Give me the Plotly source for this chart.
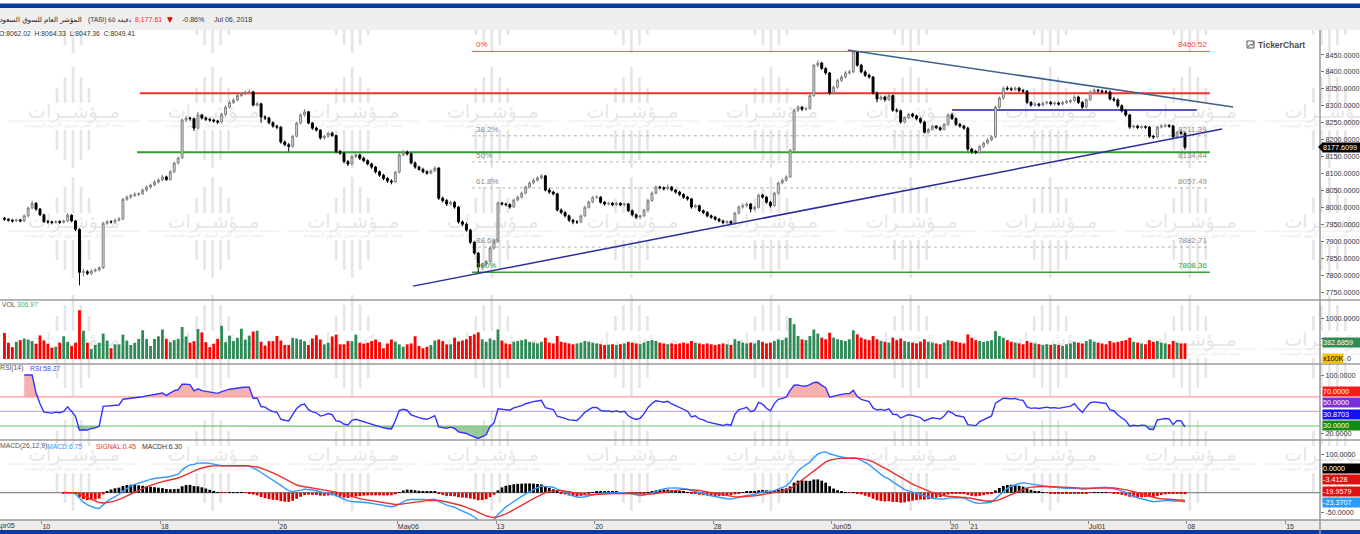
import base64
import numpy as np
import plotly.graph_objects as go

# ---------------- data (hourly TASI candles) ----------------
opens = [
    7968, 7965, 7962, 7960, 7963, 7960, 7975, 7998, 8012, 7995, 7978, 7958, 7957, 7955, 7958,
    7956, 7960, 7977, 7960, 7935, 7808, 7810, 7805, 7812, 7815, 7822, 7953, 7958, 7957, 7962,
    7966, 8024, 8030, 8035, 8038, 8040, 8051, 8060, 8066, 8075, 8081, 8090, 8082, 8105, 8131,
    8146, 8258, 8264, 8262, 8234, 8273, 8264, 8260, 8258, 8255, 8252, 8275, 8296, 8310, 8317,
    8330, 8336, 8340, 8341, 8302, 8306, 8267, 8264, 8250, 8240, 8237, 8193, 8185, 8180, 8210,
    8249, 8273, 8282, 8249, 8234, 8228, 8205, 8210, 8219, 8212, 8165, 8160, 8135, 8128, 8150,
    8155, 8145, 8138, 8128, 8119, 8105, 8095, 8085, 8078, 8075, 8104, 8155, 8163, 8158, 8131,
    8119, 8112, 8105, 8101, 8108, 8116, 8027, 8020, 8010, 8015, 8001, 7957, 7950, 7933, 7897,
    7865, 7824, 7832, 7840, 7880, 7900, 8013, 8010, 8008, 8001, 8022, 8030, 8042, 8060, 8072,
    8080, 8087, 8093, 8051, 8045, 8040, 7992, 7985, 7975, 7962, 7957, 7957, 7975, 8000, 8016,
    8030, 8030, 8015, 8010, 8012, 8008, 8012, 8007, 8010, 7990, 7978, 7971, 7975, 7992, 8020,
    8042, 8060, 8058, 8055, 8060, 8051, 8045, 8038, 8030, 8025, 8001, 8005, 7990, 7985, 7975,
    7971, 7965, 7960, 7955, 7958, 7953, 7983, 8001, 8005, 8010, 7995, 8000, 8036, 8030, 8015,
    8005, 8042, 8072, 8080, 8090, 8169, 8287, 8296, 8290, 8292, 8330, 8420, 8426, 8410, 8397,
    8338, 8355, 8375, 8385, 8397, 8400, 8459, 8420, 8400, 8390, 8385, 8338, 8320, 8326, 8318,
    8330, 8287, 8285, 8252, 8265, 8275, 8270, 8262, 8252, 8222, 8230, 8240, 8235, 8230, 8245,
    8273, 8262, 8245, 8240, 8234, 8172, 8165, 8162, 8180, 8190, 8199, 8208, 8296, 8323, 8352,
    8350, 8348, 8352, 8345, 8343, 8310, 8302, 8305, 8302, 8308, 8310, 8306, 8308, 8305, 8310,
    8312, 8315, 8326, 8310, 8296, 8318, 8341, 8346, 8344, 8342, 8341, 8320, 8317, 8300, 8285,
    8273, 8237, 8240, 8236, 8238, 8237, 8210, 8208, 8237, 8240, 8242, 8240, 8208, 8222, 8219,
]
highs = [
    7972, 7968, 7966, 7967, 7966, 7979, 8003, 8020, 8016, 7998, 7981, 7963, 7961, 7962, 7962,
    7964, 7983, 7980, 7963, 7938, 7818, 7815, 7817, 7820, 7826, 7958, 7963, 7962, 7967, 7972,
    8028, 8036, 8040, 8046, 8044, 8056, 8065, 8070, 8080, 8086, 8096, 8094, 8110, 8135, 8150,
    8263, 8270, 8268, 8265, 8282, 8276, 8268, 8264, 8262, 8259, 8279, 8301, 8315, 8322, 8335,
    8341, 8345, 8348, 8344, 8312, 8309, 8272, 8268, 8254, 8244, 8240, 8198, 8190, 8214, 8253,
    8278, 8290, 8285, 8252, 8238, 8231, 8214, 8224, 8224, 8215, 8170, 8163, 8140, 8154, 8163,
    8158, 8150, 8142, 8132, 8122, 8109, 8099, 8090, 8083, 8108, 8160, 8170, 8168, 8162, 8136,
    8123, 8117, 8110, 8112, 8121, 8119, 8032, 8025, 8020, 8019, 8004, 7962, 7955, 7937, 7901,
    7868, 7836, 7845, 7885, 7906, 8018, 8016, 8014, 8012, 8026, 8035, 8047, 8064, 8077, 8086,
    8092, 8098, 8096, 8058, 8049, 8043, 7997, 7989, 7979, 7966, 7962, 7979, 8005, 8020, 8034,
    8036, 8033, 8019, 8016, 8016, 8016, 8015, 8014, 8013, 7994, 7982, 7979, 7996, 8024, 8047,
    8065, 8064, 8062, 8068, 8063, 8055, 8049, 8042, 8034, 8028, 8010, 8008, 7994, 7989, 7979,
    7975, 7969, 7964, 7962, 7962, 7987, 8006, 8012, 8015, 8013, 8004, 8041, 8040, 8034, 8019,
    8046, 8077, 8086, 8095, 8172, 8292, 8302, 8299, 8297, 8334, 8424, 8434, 8430, 8414, 8400,
    8360, 8380, 8390, 8403, 8406, 8460.52, 8460, 8424, 8405, 8395, 8388, 8342, 8331, 8330, 8335,
    8333, 8293, 8289, 8268, 8279, 8279, 8274, 8266, 8256, 8235, 8244, 8243, 8239, 8249, 8278,
    8279, 8266, 8250, 8244, 8238, 8176, 8170, 8184, 8194, 8204, 8213, 8300, 8328, 8357, 8358,
    8355, 8357, 8356, 8350, 8347, 8314, 8310, 8309, 8312, 8315, 8314, 8312, 8312, 8315, 8317,
    8320, 8331, 8330, 8314, 8322, 8346, 8352, 8350, 8348, 8347, 8345, 8326, 8322, 8304, 8289,
    8276, 8244, 8244, 8242, 8242, 8240, 8214, 8241, 8246, 8248, 8246, 8244, 8226, 8228, 8222,
]
lows = [
    7960, 7958, 7955, 7957, 7956, 7956, 7970, 7994, 7990, 7974, 7954, 7952, 7950, 7952, 7951,
    7952, 7956, 7956, 7930, 7770, 7796, 7800, 7800, 7808, 7811, 7818, 7948, 7952, 7952, 7958,
    7962, 8019, 8025, 8030, 8033, 8036, 8046, 8055, 8062, 8070, 8076, 8078, 8079, 8101, 8127,
    8142, 8252, 8256, 8226, 8230, 8259, 8255, 8253, 8250, 8246, 8248, 8270, 8291, 8305, 8313,
    8326, 8331, 8335, 8298, 8298, 8250, 8258, 8245, 8235, 8231, 8188, 8180, 8165, 8176, 8206,
    8245, 8268, 8245, 8229, 8224, 8200, 8200, 8206, 8208, 8160, 8155, 8130, 8122, 8124, 8145,
    8140, 8133, 8124, 8114, 8100, 8090, 8080, 8072, 8068, 8072, 8100, 8150, 8153, 8127, 8114,
    8108, 8101, 8096, 8097, 8104, 8022, 8014, 8004, 8006, 7996, 7952, 7944, 7928, 7892, 7860,
    7808.36, 7815, 7826, 7835, 7874, 7896, 8005, 8003, 7996, 7998, 8018, 8026, 8038, 8056, 8068,
    8076, 8083, 8047, 8040, 8035, 7988, 7980, 7970, 7957, 7950, 7951, 7953, 7971, 7996, 8012,
    8025, 8011, 8005, 8006, 8003, 8004, 8003, 8003, 7986, 7973, 7965, 7966, 7971, 7988, 8016,
    8038, 8053, 8050, 8051, 8047, 8040, 8033, 8025, 8020, 7996, 7997, 7986, 7980, 7970, 7966,
    7961, 7956, 7950, 7951, 7948, 7950, 7979, 7996, 8000, 7985, 7990, 7996, 8026, 8011, 7999,
    8001, 8038, 8068, 8076, 8086, 8165, 8281, 8284, 8285, 8288, 8326, 8414, 8406, 8392, 8332,
    8333, 8350, 8370, 8380, 8392, 8396, 8415, 8396, 8385, 8380, 8333, 8310, 8315, 8312, 8314,
    8282, 8280, 8247, 8248, 8261, 8265, 8257, 8247, 8218, 8218, 8226, 8231, 8225, 8227, 8241,
    8258, 8241, 8235, 8229, 8166, 8158, 8157, 8159, 8175, 8186, 8195, 8204, 8291, 8318, 8345,
    8343, 8343, 8340, 8338, 8305, 8297, 8297, 8297, 8298, 8303, 8301, 8301, 8300, 8301, 8305,
    8307, 8311, 8305, 8291, 8292, 8314, 8336, 8339, 8337, 8336, 8316, 8312, 8295, 8280, 8268,
    8232, 8233, 8231, 8232, 8232, 8205, 8202, 8204, 8233, 8236, 8235, 8203, 8204, 8214, 8170,
]
closes = [
    7965, 7962, 7960, 7963, 7960, 7975, 7998, 8012, 7995, 7978, 7958, 7957, 7955, 7958, 7956,
    7960, 7977, 7960, 7935, 7808, 7810, 7805, 7812, 7815, 7822, 7953, 7958, 7957, 7962, 7966,
    8024, 8030, 8035, 8038, 8040, 8051, 8060, 8066, 8075, 8081, 8090, 8082, 8105, 8131, 8146,
    8258, 8264, 8262, 8234, 8273, 8264, 8260, 8258, 8255, 8252, 8275, 8296, 8310, 8317, 8330,
    8336, 8340, 8341, 8302, 8306, 8267, 8264, 8250, 8240, 8237, 8193, 8185, 8180, 8210, 8249,
    8273, 8282, 8249, 8234, 8228, 8205, 8210, 8219, 8212, 8165, 8160, 8135, 8128, 8150, 8155,
    8145, 8138, 8128, 8119, 8105, 8095, 8085, 8078, 8075, 8104, 8155, 8163, 8158, 8131, 8119,
    8112, 8105, 8101, 8108, 8116, 8027, 8020, 8010, 8015, 8001, 7957, 7950, 7933, 7897, 7865,
    7824, 7832, 7840, 7880, 7900, 8013, 8010, 8008, 8001, 8022, 8030, 8042, 8060, 8072, 8080,
    8087, 8093, 8051, 8045, 8040, 7992, 7985, 7975, 7962, 7957, 7957, 7975, 8000, 8016, 8030,
    8030, 8015, 8010, 8012, 8008, 8012, 8007, 8010, 7990, 7978, 7971, 7975, 7992, 8020, 8042,
    8060, 8058, 8055, 8060, 8051, 8045, 8038, 8030, 8025, 8001, 8005, 7990, 7985, 7975, 7971,
    7965, 7960, 7955, 7958, 7953, 7983, 8001, 8005, 8010, 7995, 8000, 8036, 8030, 8015, 8005,
    8042, 8072, 8080, 8090, 8169, 8287, 8296, 8290, 8292, 8330, 8420, 8426, 8410, 8397, 8338,
    8355, 8375, 8385, 8397, 8400, 8459, 8420, 8400, 8390, 8385, 8338, 8320, 8326, 8318, 8330,
    8287, 8285, 8252, 8265, 8275, 8270, 8262, 8252, 8222, 8230, 8240, 8235, 8230, 8245, 8273,
    8262, 8245, 8240, 8234, 8172, 8165, 8162, 8180, 8190, 8199, 8208, 8296, 8323, 8352, 8350,
    8348, 8352, 8345, 8343, 8310, 8302, 8305, 8302, 8308, 8310, 8306, 8308, 8305, 8310, 8312,
    8315, 8326, 8310, 8296, 8318, 8341, 8346, 8344, 8342, 8341, 8320, 8317, 8300, 8285, 8273,
    8237, 8240, 8236, 8238, 8237, 8210, 8208, 8237, 8240, 8242, 8240, 8208, 8222, 8219, 8177.61,
]
volumes = [  # x100K
    635, 397, 290, 420, 460, 500, 475, 436, 373, 575,
    450, 373, 278, 300, 397, 555, 420, 317, 397, 1190,
    690, 397, 240, 340, 397, 620, 450, 262, 357, 357,
    595, 450, 340, 397, 490, 700, 490, 317, 490, 555,
    720, 490, 410, 460, 490, 780, 550, 397, 436, 730,
    650, 410, 290, 373, 490, 810, 410, 570, 436, 516,
    740, 475, 570, 670, 690, 420, 330, 436, 436, 560,
    450, 340, 340, 516, 500, 475, 436, 340, 500, 580,
    475, 357, 397, 550, 595, 357, 357, 436, 436, 595,
    397, 373, 397, 436, 475, 410, 262, 380, 475, 420,
    357, 300, 357, 380, 555, 317, 262, 300, 340, 450,
    475, 436, 357, 357, 520, 430, 450, 480, 560, 600,
    650, 480, 420, 500, 460, 720, 450, 380, 360, 420,
    440, 460, 480, 420, 400, 380, 420, 520, 400, 380,
    560, 420, 400, 380, 360, 380, 400, 440, 420, 400,
    380, 360, 340, 350, 360, 340, 360, 380, 420, 400,
    380, 360, 400, 440, 460, 440, 400, 380, 360, 380,
    360, 380, 400, 380, 440, 400, 380, 360, 380, 360,
    340, 360, 380, 360, 340, 480, 440, 400, 380, 400,
    380, 460, 420, 380, 400, 440, 480, 460, 520, 1000,
    850, 560, 480, 460, 560, 720, 620, 520, 480, 640,
    520, 480, 460, 440, 480, 700, 600, 520, 480, 460,
    560, 480, 440, 420, 400, 520, 460, 500, 440, 420,
    400, 380, 420, 480, 420, 400, 380, 360, 400, 460,
    440, 420, 400, 380, 600, 520, 460, 440, 420, 440,
    460, 680, 560, 520, 460, 420, 400, 380, 360, 440,
    400, 380, 360, 340, 360, 340, 360, 340, 320, 360,
    380, 420, 400, 380, 440, 480, 420, 400, 380, 360,
    440, 400, 420, 440, 460, 520, 420, 400, 380, 360,
    460, 420, 440, 400, 380, 360, 440, 400, 380, 383,
]

tick_pos = [9.5, 39.5, 69.5, 99.5, 124.5, 149.5, 179.5, 209.5, 239.5, 244.5, 274.5, 299.5, 324.5]
tick_text = ["10", "18", "26", "May06", "13", "20", "28", "Jun05", "20", "21", "Jul01", "08", "15"]

fib_high, fib_low = 8460.52, 7808.36
fib_ratios = [0.0, 0.382, 0.5, 0.618, 0.886, 1.0]
fib_names = ["0%", "38.2%", "50%", "61.8%", "88.6%", "100%"]
fib_span = [118.4, 305.3]
resistance, support, mid_level = 8337.0, 8163.0, 8287.5
res_span, sup_span, mid_span = [34.3, 305.3], [33.6, 305.3], [240.0, 302.0]
down_trend = [(213.6, 8464.8), (311.2, 8296.3)]
up_trend = [(103.5, 7767.4), (308.4, 8231.3)]

# ---------------- indicators ----------------
c = np.array(closes, dtype=float)
n = len(c)
idx = np.arange(n)
RSI_START = 4   # first bar the platform's RSI calculation uses in the visible window

def rsi_calc(arr, per=14, start=0):
    out = np.full(len(arr), np.nan)
    ag = al = 0.0
    cnt = 0
    for k in range(start + 1, len(arr)):
        d = arr[k] - arr[k - 1]
        g, l = max(d, 0.0), max(-d, 0.0)
        if cnt < per:
            cnt += 1
            ag += (g - ag) / cnt
            al += (l - al) / cnt
        else:
            ag = (ag * (per - 1) + g) / per
            al = (al * (per - 1) + l) / per
        out[k] = 100.0 if al == 0 else 100 - 100 / (1 + ag / al)
    return out

def ema(arr, per):
    a = 2.0 / (per + 1)
    out = np.empty(len(arr))
    out[0] = arr[0]
    for k in range(1, len(arr)):
        out[k] = a * arr[k] + (1 - a) * out[k - 1]
    return out

rsi = rsi_calc(c, 14, RSI_START)
macd = ema(c, 12) - ema(c, 26)
signal = ema(macd, 9)
hist = macd - signal

# ---------------- geometry helpers ----------------
W, H = 1360, 534
ML, MR, MT, MB = 0, 40, 30, 14
PW, PH = W - ML - MR, H - MT - MB

def py(y):
    return (H - MB - y) / PH

def px(x):
    return x / PW

FONT = "Liberation Sans"
fig = go.Figure()

# candles
fig.add_trace(go.Candlestick(
    x=idx, open=opens, high=highs, low=lows, close=closes, yaxis="y",
    increasing=dict(line=dict(color="#808080", width=1), fillcolor="#d9d9d9"),
    decreasing=dict(line=dict(color="#000000", width=1), fillcolor="#000000"),
    whiskerwidth=0, hoverinfo="skip", showlegend=False))

# volume
vcol = ["#2e8b57" if closes[i] >= opens[i] else "#ff0000" for i in range(n)]
fig.add_trace(go.Bar(x=idx, y=volumes, marker=dict(color=vcol, line=dict(width=0)),
                     width=0.72, yaxis="y2", hoverinfo="skip", showlegend=False))

# RSI
s = RSI_START + 1
ri = idx[s:]
rv = rsi[s:]
fig.add_trace(go.Scatter(x=ri, y=np.full(len(ri), 70.0), mode="lines", line=dict(width=0),
                         yaxis="y3", hoverinfo="skip", showlegend=False))
fig.add_trace(go.Scatter(x=ri, y=np.maximum(rv, 70), mode="lines", line=dict(width=0),
                         fill="tonexty", fillcolor="rgba(244,150,150,0.75)",
                         yaxis="y3", hoverinfo="skip", showlegend=False))
fig.add_trace(go.Scatter(x=ri, y=np.full(len(ri), 30.0), mode="lines", line=dict(width=0),
                         yaxis="y3", hoverinfo="skip", showlegend=False))
fig.add_trace(go.Scatter(x=ri, y=np.minimum(rv, 30), mode="lines", line=dict(width=0),
                         fill="tonexty", fillcolor="rgba(120,185,120,0.75)",
                         yaxis="y3", hoverinfo="skip", showlegend=False))
fig.add_trace(go.Scatter(x=ri, y=rv, mode="lines", line=dict(color="#3333ff", width=1.4),
                         yaxis="y3", hoverinfo="skip", showlegend=False))

# MACD
m0 = 15
mi = idx[m0:]
hcol = ["#000000" if v >= 0 else "#e00000" for v in hist[m0:]]
fig.add_trace(go.Bar(x=mi, y=hist[m0:], marker=dict(color=hcol, line=dict(width=0)), width=0.7,
                     yaxis="y4", hoverinfo="skip", showlegend=False))
fig.add_trace(go.Scatter(x=mi, y=macd[m0:], mode="lines", line=dict(color="#3399ff", width=1.4),
                         yaxis="y4", hoverinfo="skip", showlegend=False))
fig.add_trace(go.Scatter(x=mi, y=signal[m0:], mode="lines", line=dict(color="#e83030", width=1.4),
                         yaxis="y4", hoverinfo="skip", showlegend=False))

# ---------------- shapes ----------------
shapes = []
def hline_px(y, color, width=1.5, x1=W):
    shapes.append(dict(type="line", xref="paper", yref="paper", x0=px(0), x1=px(x1),
                       y0=py(y), y1=py(y), line=dict(color=color, width=width)))

# chrome
shapes.append(dict(type="rect", xref="paper", yref="paper", x0=px(0), x1=px(W), y0=py(8), y1=py(30),
                   fillcolor="#efefef", line=dict(width=0), layer="below"))
shapes.append(dict(type="rect", xref="paper", yref="paper", x0=px(0), x1=px(W), y0=py(3.5), y1=py(8),
                   fillcolor="#0a3aa0", line=dict(width=0)))
shapes.append(dict(type="rect", xref="paper", yref="paper", x0=px(0), x1=px(W), y0=py(520), y1=py(530),
                   fillcolor="#ececec", line=dict(width=0), layer="below"))
shapes.append(dict(type="rect", xref="paper", yref="paper", x0=px(0), x1=px(W), y0=py(530), y1=py(534),
                   fillcolor="#0a3aa0", line=dict(width=0)))
for yy in (300, 364, 440, 520):
    hline_px(yy, "#9a9a9a", 1.5)
shapes.append(dict(type="line", xref="paper", yref="paper", x0=px(1320), x1=px(1320),
                   y0=py(534), y1=py(30), line=dict(color="#9a9a9a", width=1.5)))

# fibonacci
for r in fib_ratios:
    lvl = fib_high - r * (fib_high - fib_low)
    if r == 0.0:
        ln = dict(color="#ff5050", width=1)
    elif r == 1.0:
        ln = dict(color="#33a033", width=1.3)
    else:
        ln = dict(color="#b5b5b5", width=1, dash="dot")
    shapes.append(dict(type="line", xref="x", yref="y", x0=fib_span[0], x1=fib_span[1],
                       y0=lvl, y1=lvl, line=ln, layer="below"))
# levels
shapes.append(dict(type="line", xref="x", yref="y", x0=res_span[0], x1=res_span[1], y0=resistance,
                   y1=resistance, line=dict(color="#ff2a2a", width=2), layer="below"))
shapes.append(dict(type="line", xref="x", yref="y", x0=sup_span[0], x1=sup_span[1], y0=support,
                   y1=support, line=dict(color="#2f9e2f", width=2), layer="below"))
shapes.append(dict(type="line", xref="x", yref="y", x0=mid_span[0], x1=mid_span[1], y0=mid_level,
                   y1=mid_level, line=dict(color="#1c1ca8", width=1.5), layer="below"))
shapes.append(dict(type="line", xref="x", yref="y", x0=down_trend[0][0], y0=down_trend[0][1],
                   x1=down_trend[1][0], y1=down_trend[1][1], line=dict(color="#40608f", width=1.5)))
shapes.append(dict(type="line", xref="x", yref="y", x0=up_trend[0][0], y0=up_trend[0][1],
                   x1=up_trend[1][0], y1=up_trend[1][1], line=dict(color="#2c2c9c", width=1.5)))
# RSI guides
for lv, colr in ((70, "#ff9a9a"), (50, "#c8aef0"), (30, "#6cbf6c")):
    shapes.append(dict(type="line", xref="paper", yref="y3", x0=0, x1=1, y0=lv, y1=lv,
                       line=dict(color=colr, width=1.2), layer="below"))
# MACD zero
shapes.append(dict(type="line", xref="paper", yref="y4", x0=0, x1=1, y0=0, y1=0,
                   line=dict(color="#8a8a8a", width=1.2), layer="below"))
# price pointer
shapes.append(dict(type="path", xref="paper", yref="paper",
                   path=f"M {px(1318)},{py(147)} L {px(1323)},{py(142)} L {px(1323)},{py(152)} Z",
                   fillcolor="#000000", line=dict(width=0)))
# TickerChart icon
shapes.append(dict(type="rect", xref="paper", yref="paper", x0=px(1247), x1=px(1254), y0=py(48), y1=py(41),
                   line=dict(color="#555555", width=1), fillcolor="rgba(0,0,0,0)"))
shapes.append(dict(type="path", xref="paper", yref="paper",
                   path=f"M {px(1248)},{py(47)} L {px(1250.5)},{py(44)} L {px(1252)},{py(45.5)} L {px(1254)},{py(42)}",
                   line=dict(color="#555555", width=1)))

# ---------------- annotations ----------------
ann = []
def txt(x, y, text, color="#333333", size=7.5, anchor="left", family=FONT, **kw):
    ann.append(dict(xref="paper", yref="paper", x=px(x), y=py(y), text=text, showarrow=False,
                    xanchor=anchor, yanchor="middle", font=dict(color=color, size=size, family=family), **kw))

# header strip
txt(84, 20, "المؤشر العام للسوق السعودي", "#222222", 7, "right", "DejaVu Sans")
txt(86, 20, "(TASI)", "#333333", 6.5)
txt(106, 20, "60 دقيقة", "#333333", 6, family="DejaVu Sans")
txt(133, 20, "8,177.61", "#ff2020", 7)
txt(165, 20, "▼", "#e00000", 7.5, family="DejaVu Sans")
txt(180, 20, "-0.86%", "#333333", 7)
txt(212, 20, "Jul 06, 2018", "#333333", 7)
txt(-3, 34, "O:8062.02  H:8064.33  L:8047.36  C:8049.41", "#333333", 6.8)

# panel headers
txt(0, 304.5, "VOL", "#555555", 6.8)
txt(15, 304.5, "306.97", "#3cb371", 6.8)
txt(-2, 368, "RSI(14)", "#555555", 6.8)
txt(28, 368, "RSI:58.27", "#4848ff", 6.8)
txt(-2, 446, "MACD(26,12,9)", "#555555", 6.8)
txt(45, 446, "MACD:6.75", "#3399ff", 6.8)
txt(94, 446, "SIGNAL:0.45", "#e83030", 6.8)
txt(140, 446, "MACDH:6.30", "#333333", 6.8)

# TickerChart logo
txt(1256, 44.5, "<b>TickerChart</b>", "#4a4a4a", 8.5)

# fib labels
for r, name in zip(fib_ratios, fib_names):
    lvl = fib_high - r * (fib_high - fib_low)
    colr = "#ff4040" if r == 0.0 else ("#33a033" if r == 1.0 else "#8c8c8c")
    ann.append(dict(xref="x", yref="y", x=fib_span[0] + 0.4, y=lvl, text=name, showarrow=False,
                    xanchor="left", yanchor="bottom", font=dict(color=colr, size=8, family=FONT)))
    ann.append(dict(xref="x", yref="y", x=fib_span[1] - 0.2, y=lvl, text=f"{lvl:.2f}", showarrow=False,
                    xanchor="right", yanchor="bottom", font=dict(color=colr, size=8, family=FONT)))

# right-side value boxes
def box(y, text, bg, fg="#ffffff", x=1322, w=38):
    ann.append(dict(xref="paper", yref="paper", x=px(x), y=py(y), text=text, showarrow=False,
                    xanchor="left", yanchor="middle", align="left", width=w, height=9,
                    bgcolor=bg, borderpad=0, font=dict(color=fg, size=7.2, family=FONT)))

box(147, "8177.6099", "#000000")
box(342.5, "382.6859", "#2e8b57")
box(358.5, "x100K", "#f4c20d", "#000000", w=20)
txt(1345, 358.5, "0", "#333333", 7.2)
box(391.5, "70.0000", "#ff1a1a")
box(402.5, "50.0000", "#7a2fd6")
box(414, "30.8703", "#1111ff")
box(425.5, "30.0000", "#138a13")
box(468.5, "0.0000", "#000000")
box(479.5, "-3.4128", "#e01010")
box(491, "-19.9579", "#e01010")
box(502.5, "-23.3707", "#2b9bff")

# x label that falls left of the visible range
txt(-6, 526, "Apr05", "#333333", 7)

# ---------------- watermark (background image) ----------------
wm_cols = [74 + 139.6 * k for k in range(-1, 10)]
wm_rows = [-3, 112, 222, 340, 455]
svg = [f'<svg xmlns="http://www.w3.org/2000/svg" width="1360" height="490" viewBox="0 0 1360 490">']
for cy in wm_rows:
    for cx in wm_cols:
        y0 = cy - 30
        for off, hh in zip([-17, -9, -1, 7, 15], [15, 26, 36, 26, 15]):
            svg.append(f'<rect x="{cx+off-1.3:.1f}" y="{y0-9-hh:.1f}" width="2.6" height="{hh}" fill="#e5e5e5"/>')
        for off, hh in zip([-17, -9, -1, 7, 15], [20, 30, 38, 30, 20]):
            svg.append(f'<rect x="{cx+off-1.3:.1f}" y="{y0+18:.1f}" width="2.6" height="{hh}" fill="#e5e5e5"/>')
        svg.append(f'<text x="{cx:.1f}" y="{y0+6:.1f}" font-family="DejaVu Sans" font-size="19" '
                   f'fill="#e6e6e6" text-anchor="middle">مــؤشــرات</text>')
        svg.append(f'<line x1="{cx-66:.1f}" y1="{y0+9:.1f}" x2="{cx+66:.1f}" y2="{y0+9:.1f}" '
                   f'stroke="#ececec" stroke-width="1"/>')
        svg.append(f'<text x="{cx:.1f}" y="{y0+15:.1f}" font-family="DejaVu Sans" font-size="5.5" '
                   f'fill="#e8e8e8" text-anchor="middle">منصة التحليل الفني لسوق الأسهم السعودية</text>')
svg.append('</svg>')
svg_uri = "data:image/svg+xml;base64," + base64.b64encode("".join(svg).encode("utf-8")).decode()

# ---------------- layout ----------------
yax = dict(side="right", anchor="x", showgrid=False, zeroline=False, ticks="outside", ticklen=3,
           tickcolor="#777777", tickfont=dict(size=7.2, color="#333333", family=FONT), showline=False,
           fixedrange=True)
fig.update_layout(
    width=W, height=H, margin=dict(l=ML, r=MR, t=MT, b=MB),
    paper_bgcolor="#ffffff", plot_bgcolor="rgba(0,0,0,0)", showlegend=False, hovermode=False,
    xaxis=dict(domain=[0, 1], anchor="y4", range=[-1.13, 333.2], tickmode="array", tickvals=tick_pos,
               ticktext=tick_text, ticks="outside", ticklen=3, tickcolor="#888888",
               ticklabelposition="outside right", tickfont=dict(size=7, color="#333333", family=FONT),
               showgrid=False, zeroline=False, showline=False, rangeslider=dict(visible=False),
               fixedrange=True),
    yaxis=dict(yax, domain=[py(300), 1], range=[7726.4, 8523.8], tickmode="array",
               tickvals=list(range(7750, 8451, 50)), ticktext=[f"{v}.0000" for v in range(7750, 8451, 50)]),
    yaxis2=dict(yax, domain=[py(364), py(300)], range=[-122, 1439], tickmode="array",
                tickvals=[500, 1000], ticktext=["", "1000.0000"]),
    yaxis3=dict(yax, domain=[py(440), py(364)], range=[10.8, 115.1], tickmode="array",
                tickvals=[20, 100], ticktext=["20.0000", "100.0000"]),
    yaxis4=dict(yax, domain=[0, py(440)], range=[-70.7, 136.2], tickmode="array",
                tickvals=[-50, 100], ticktext=["-50.0000", "100.0000"]),
    shapes=shapes, annotations=ann,
    images=[dict(source=svg_uri, xref="paper", yref="paper", x=0, y=1, sizex=W / PW, sizey=1,
                 xanchor="left", yanchor="top", sizing="stretch", layer="below")],
)

fig.write_html("out.html", config={"displayModeBar": False},
               post_script="document.body.style.margin='0px';document.body.style.padding='0px';")
